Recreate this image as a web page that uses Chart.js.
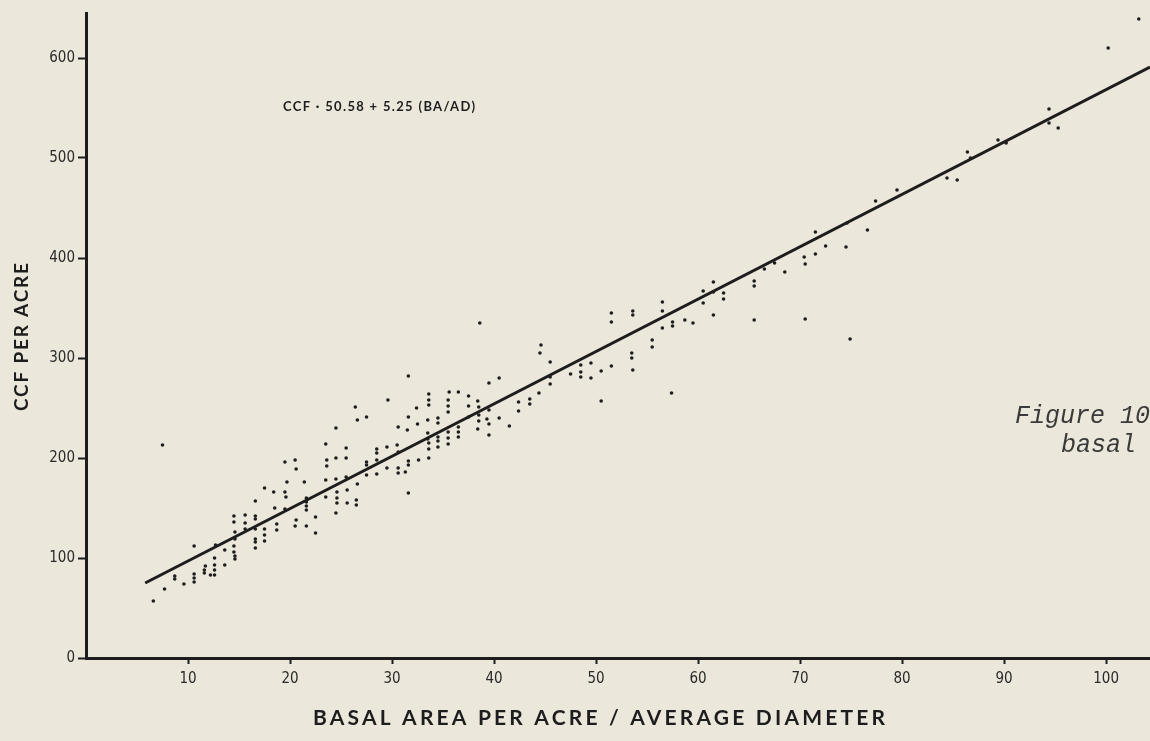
<!DOCTYPE html>
<html>
<head>
<meta charset="utf-8">
<script src="https://cdn.jsdelivr.net/npm/chart.js@4.4.1/dist/chart.umd.min.js"></script>
<style>
  body { margin: 0; background: #ebe7db; }
  #wrap { width: 1150px; height: 741px; position: relative; }
</style>
</head>
<body>
<div id="wrap"><canvas id="ccfChart"></canvas></div>
<script>
// Plots: basal area / avg diameter vs CCF per acre
const basalX = [
  7.5, 16.6, 14.5, 14.5, 15.6, 15.6, 16.6, 16.6, 14.6, 15.6, 16.6, 14.6, 16.6, 16.6, 16.6,
  10.6, 12.7, 13.6, 14.5, 14.5, 14.6, 14.6, 12.6, 12.6, 12.6, 12.6, 11.7, 11.6, 11.6, 12.2,
  13.6, 10.6, 10.6, 10.6, 8.7, 8.7, 9.6, 7.7, 6.6, 17.5, 17.5, 17.5, 17.5,
  26.4, 29.6, 26.6, 27.5, 24.5, 23.5, 25.5, 28.5, 28.5, 29.5,
  19.5, 20.5, 20.6, 23.6, 23.6, 24.5, 25.5, 27.5, 27.5, 28.5, 29.5,
  19.7, 21.4, 23.5, 24.5, 25.5, 27.5, 28.5, 26.6,
  18.4, 19.5, 19.6, 21.6, 23.5, 24.6, 24.6, 25.6, 24.6, 25.6, 26.5, 26.5,
  18.5, 19.5, 21.6, 21.6, 21.6, 24.5, 22.5, 20.6, 20.5, 21.6, 18.7, 18.7, 22.5,
  31.6, 39.5, 40.5, 33.6, 33.6, 33.6, 35.6, 36.5, 35.5, 35.5, 35.5, 37.5, 38.4, 37.5, 38.5, 32.4,
  31.6, 33.5, 34.5, 34.5, 32.5, 30.6, 31.5, 38.5, 38.5, 39.3, 39.5, 40.5, 41.5, 42.4, 42.4,
  38.4, 39.5, 33.5, 34.5, 34.5, 35.5, 35.5, 36.5, 36.5,
  30.5, 30.6, 33.6, 33.6, 34.5, 35.5, 33.6, 32.6, 31.6, 31.6, 30.6, 30.6, 31.3,
  33.5, 37.5, 39.5, 36.5,
  38.6, 44.6, 44.5, 45.5, 45.5, 44.4, 43.5, 43.5, 47.5, 48.5, 48.5, 48.5, 49.5, 49.5, 50.5,
  50.5, 51.5, 51.5, 51.5, 53.6, 53.6, 53.5, 53.5, 53.6, 55.5, 55.5, 56.5, 56.5, 56.5, 57.5,
  57.5, 57.4, 58.7, 59.5, 45.5, 31.6,
  86.4, 86.7, 84.4, 85.4, 79.5, 77.4, 76.6, 74.6, 74.5, 74.9, 71.5, 72.5, 71.5, 70.4, 70.5,
  70.5, 68.5, 67.5, 66.5, 65.5, 65.5, 65.5, 61.5, 61.5, 61.5, 62.5, 62.5, 60.5, 60.5,
  103.2, 100.2, 94.4, 94.4, 95.3, 89.4, 90.2
];
const ccfY = [
  213, 157, 142, 136, 143, 135, 142, 139, 126, 129, 129, 119, 119, 116, 110,
  112, 113, 108, 112, 106, 102, 99, 100, 93, 88, 83, 92, 88, 85, 83,
  93, 84, 80, 76, 82, 79, 74, 69, 57, 170, 129, 123, 117,
  251, 258, 238, 241, 230, 214, 210, 209, 205, 211,
  196, 198, 189, 198, 192, 200, 200, 196, 193, 198, 190,
  176, 176, 178, 179, 181, 183, 184, 174,
  166, 166, 161, 160, 161, 166, 160, 168, 155, 155, 158, 153,
  150, 149, 156, 152, 148, 145, 141, 138, 132, 132, 134, 128, 125,
  282, 275, 280, 264, 258, 253, 266, 266, 258, 252, 246, 262, 257, 252, 251, 250,
  241, 238, 240, 235, 234, 231, 228, 243, 237, 239, 234, 240, 232, 256, 247,
  229, 223, 225, 221, 217, 226, 220, 226, 221,
  213, 206, 215, 209, 211, 214, 200, 198, 197, 193, 190, 185, 186,
  219, 241, 248, 231,
  335, 313, 305, 296, 274, 265, 259, 254, 284, 293, 286, 281, 280, 295, 287,
  257, 292, 345, 336, 347, 343, 305, 300, 288, 318, 311, 356, 347, 330, 336,
  332, 265, 338, 335, 281, 165,
  506, 500, 480, 478, 468, 457, 428, 435, 411, 319, 426, 412, 404, 401, 394,
  339, 386, 395, 389, 377, 372, 338, 376, 366, 343, 365, 359, 367, 355,
  639, 610, 549, 535, 530, 518, 515
];

// Fitted line as drawn on the figure
const fitX = [5.8, 104.3];
const fitY = [75, 591];

// Axis ticks
const xTicks = [10, 20, 30, 40, 50, 60, 70, 80, 90, 100];
const yTicks = [0, 100, 200, 300, 400, 500, 600];

const ink = "#1d1d1d";

// Helper: draw text stretched with letter spacing to a given width
function drawSpaced(ctx, text, left, y, targetW) {
  ctx.letterSpacing = "0px";
  const w0 = ctx.measureText(text).width;
  const gap = Math.max(0, (targetW - w0) / (text.length - 1));
  ctx.letterSpacing = gap + "px";
  ctx.textAlign = "left";
  ctx.fillText(text, left, y);
  ctx.letterSpacing = "0px";
}

// Axis titles, equation and the cut-off caption
const figureText = {
  id: "figureText",
  afterDraw(chart) {
    const ctx = chart.ctx;
    ctx.save();
    ctx.fillStyle = ink;
    ctx.textBaseline = "middle";

    // x axis title
    ctx.font = "bold 21px Lato, 'Open Sans', sans-serif";
    drawSpaced(ctx, "BASAL AREA PER ACRE / AVERAGE DIAMETER", 313, 718, 572);

    // y axis title (rotated)
    ctx.save();
    ctx.translate(22, 337);
    ctx.rotate(-Math.PI / 2);
    ctx.font = "bold 19px Lato, 'Open Sans', sans-serif";
    drawSpaced(ctx, "CCF PER ACRE", -74, 0, 148);
    ctx.restore();

    // regression equation
    ctx.font = "bold 13px Lato, 'Open Sans', sans-serif";
    drawSpaced(ctx, "CCF · 50.58 + 5.25 (BA/AD)", 283, 107, 192);

    // caption text, clipped by the page edge
    ctx.fillStyle = "#3a3a3a";
    ctx.textBaseline = "alphabetic";
    ctx.font = "italic 25px 'Liberation Mono', 'DejaVu Sans Mono', monospace";
    ctx.textAlign = "left";
    ctx.fillText("Figure 10", 1015, 423);
    ctx.fillText("basal", 1061, 452);
    ctx.restore();
  },
};

const ctx = document.getElementById("ccfChart").getContext("2d");
new Chart(ctx, {
  type: "scatter",
  data: {
    datasets: [
      {
        label: "Plots",
        data: basalX.map((x, i) => ({ x: x, y: ccfY[i] })),
        pointRadius: 1.8,
        pointBackgroundColor: ink,
        pointBorderWidth: 0,
      },
      {
        label: "CCF = 50.58 + 5.25 (BA/AD)",
        data: fitX.map((x, i) => ({ x: x, y: fitY[i] })),
        showLine: true,
        borderColor: ink,
        borderWidth: 3,
        pointRadius: 0,
      },
    ],
  },
  options: {
    responsive: true,
    maintainAspectRatio: false,
    animation: false,
    layout: { autoPadding: false, padding: { top: 13, right: 0, left: 0, bottom: 0 } },
    plugins: {
      legend: { display: false },
      tooltip: { enabled: false },
    },
    scales: {
      x: {
        type: "linear",
        min: 0,
        max: 104.3,
        afterBuildTicks: (scale) => {
          scale.ticks = xTicks.map((v) => ({ value: v }));
        },
        afterFit: (scale) => {
          scale.height = 83;
        },
        border: { color: ink, width: 3 },
        grid: {
          drawOnChartArea: false,
          tickLength: 6,
          tickColor: ink,
          tickWidth: 2,
        },
        ticks: {
          color: "#2a2a2a",
          padding: 6,
          maxRotation: 0,
          font: { family: "'Liberation Sans Narrow', 'DejaVu Sans Condensed', 'Liberation Sans'", size: 15 },
        },
      },
      y: {
        min: 0,
        max: 645,
        afterBuildTicks: (scale) => {
          scale.ticks = yTicks.map((v) => ({ value: v }));
        },
        afterFit: (scale) => {
          scale.width = 86;
        },
        border: { color: ink, width: 3 },
        grid: {
          drawOnChartArea: false,
          tickLength: 8,
          tickColor: ink,
          tickWidth: 2,
        },
        ticks: {
          color: "#2a2a2a",
          padding: 3,
          font: { family: "'Liberation Sans Narrow', 'DejaVu Sans Condensed', 'Liberation Sans'", size: 15 },
        },
      },
    },
  },
  plugins: [figureText],
});
</script>
</body>
</html>
